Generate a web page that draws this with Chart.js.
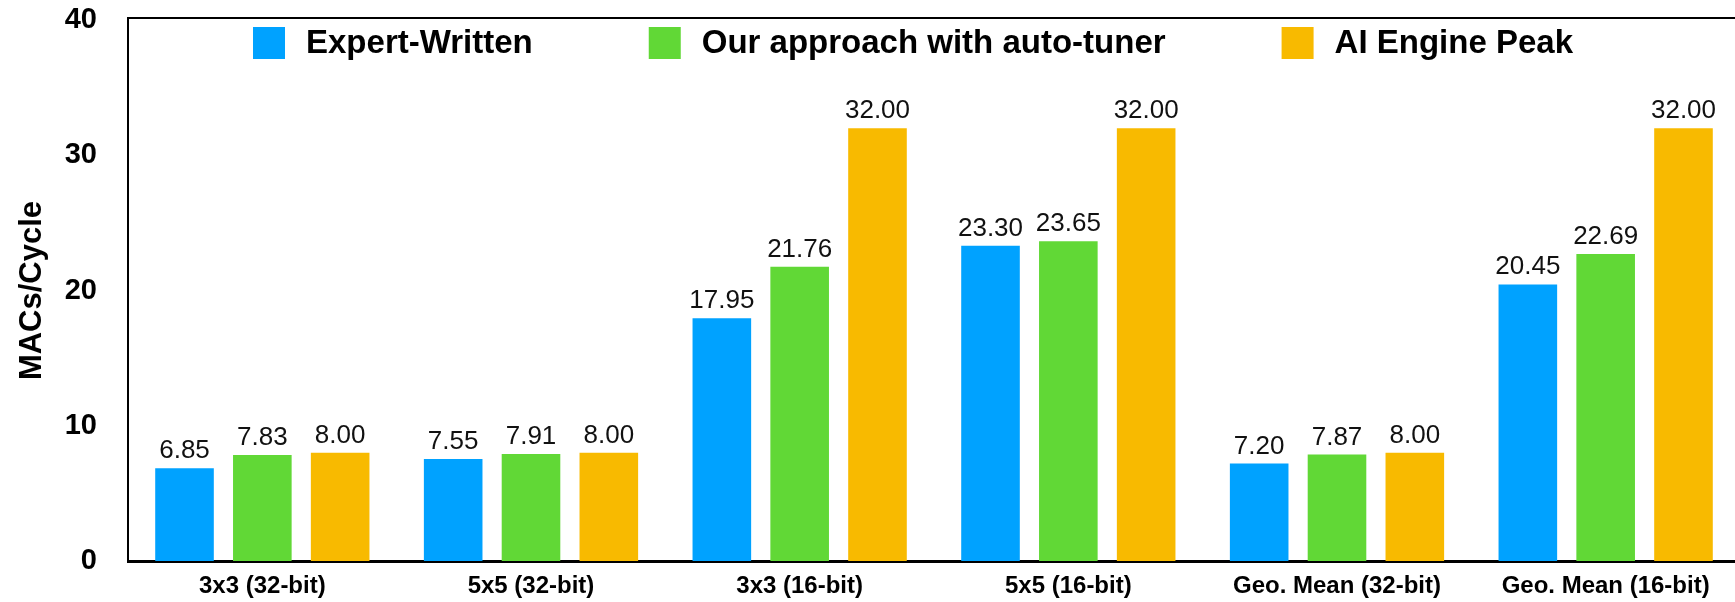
<!DOCTYPE html>
<html>
<head>
  <meta charset="utf-8">
  <title>MACs/Cycle comparison</title>
  <script src="https://cdn.jsdelivr.net/npm/chart.js@4.4.0/dist/chart.umd.min.js"></script>
  <style>
    html, body {
      margin: 0;
      padding: 0;
      background: #fff;
      overflow: hidden;
    }
  </style>
</head>
<body>
  <canvas id="macChart" width="1740" height="602"></canvas>

  <script>
    // data
    const categories = [
      '3x3 (32-bit)', '5x5 (32-bit)', '3x3 (16-bit)',
      '5x5 (16-bit)', 'Geo. Mean (32-bit)', 'Geo. Mean (16-bit)'
    ];
    const seriesNames = ['Expert-Written', 'Our approach with auto-tuner', 'AI Engine Peak'];
    const expertWritten = [6.85, 7.55, 17.95, 23.30, 7.20, 20.45];
    const autoTuner = [7.83, 7.91, 21.76, 23.65, 7.87, 22.69];
    const enginePeak = [8.00, 8.00, 32.00, 32.00, 8.00, 32.00];
    const yTicks = [0, 10, 20, 30, 40];

    const seriesColors = ['#00A2FF', '#61D836', '#F8BA00'];
    const FONT = '"Liberation Sans", Arial, Helvetica, sans-serif';

    Chart.defaults.font.family = FONT;
    Chart.defaults.color = '#000';

    // numbers above each bar
    const valueLabels = {
      id: 'valueLabels',
      afterDatasetsDraw(chart) {
        const ctx = chart.ctx;
        ctx.save();
        ctx.font = '26px ' + FONT;
        ctx.fillStyle = '#111';
        ctx.textAlign = 'center';
        ctx.textBaseline = 'alphabetic';
        chart.data.datasets.forEach((ds, i) => {
          const meta = chart.getDatasetMeta(i);
          meta.data.forEach((bar, j) => {
            ctx.fillText(ds.data[j].toFixed(2), bar.x, bar.y - 10);
          });
        });
        ctx.restore();
      }
    };

    // top frame line + legend drawn inside the plot
    const frameAndLegend = {
      id: 'frameAndLegend',
      afterDraw(chart) {
        const ctx = chart.ctx;
        const area = chart.chartArea;
        ctx.save();
        ctx.strokeStyle = '#000';
        ctx.lineWidth = 2;
        ctx.beginPath();
        ctx.moveTo(area.left - 1, area.top - 2);
        ctx.lineTo(chart.width, area.top - 2);
        ctx.stroke();

        // legend
        ctx.font = 'bold 33px ' + FONT;
        ctx.textBaseline = 'middle';
        ctx.textAlign = 'left';
        const box = 32, gap = 21, itemGap = 116;
        const items = chart.data.datasets.map(ds => ({
          text: ds.label,
          color: ds.backgroundColor,
          w: ctx.measureText(ds.label).width
        }));
        let total = 0;
        items.forEach((it, i) => {
          total += box + gap + it.w + (i < items.length - 1 ? itemGap : 0);
        });
        let x = 913 - total / 2;
        const midY = 43;
        items.forEach(it => {
          ctx.fillStyle = it.color;
          ctx.fillRect(x, midY - 16, box, 32);
          ctx.fillStyle = '#000';
          ctx.fillText(it.text, x + box + gap, midY + 1);
          x += box + gap + it.w + itemGap;
        });
        ctx.restore();
      }
    };

    const seriesData = [expertWritten, autoTuner, enginePeak];

    const ctx = document.getElementById('macChart').getContext('2d');
    new Chart(ctx, {
      type: 'bar',
      data: {
        labels: categories,
        datasets: seriesNames.map((name, i) => ({
          label: name,
          data: seriesData[i],
          backgroundColor: seriesColors[i],
          borderWidth: 0,
          categoryPercentage: 0.869,
          barPercentage: 0.753
        }))
      },
      options: {
        responsive: false,
        animation: false,
        devicePixelRatio: 1,
        layout: {
          padding: { top: 20, right: 0, bottom: 0, left: 0 }
        },
        plugins: {
          legend: { display: false },
          tooltip: { enabled: false }
        },
        scales: {
          x: {
            grid: { display: false, drawTicks: false },
            border: { display: true, color: '#000', width: 3 },
            ticks: {
              font: { size: 24, weight: 'bold' },
              color: '#000',
              padding: 11,
              maxRotation: 0,
              autoSkip: false
            },
            afterFit(scale) {
              scale.height = 41;
              scale.paddingLeft = 0;
              scale.paddingRight = 0;
            }
          },
          y: {
            min: 0,
            max: 40,
            grid: { display: false, drawTicks: false },
            border: { display: true, color: '#000', width: 2 },
            ticks: {
              font: { size: 29, weight: 'bold' },
              color: '#000',
              padding: 31
            },
            afterBuildTicks(scale) {
              scale.ticks = yTicks.map(v => ({ value: v }));
            },
            title: {
              display: true,
              text: 'MACs/Cycle',
              font: { size: 31, weight: 'bold' },
              color: '#000',
              padding: { top: 14, bottom: 0 }
            },
            afterFit(scale) {
              scale.width = 128;
              scale.paddingTop = 0;
              scale.paddingBottom = 0;
            }
          }
        }
      },
      plugins: [valueLabels, frameAndLegend]
    });
  </script>
</body>
</html>
